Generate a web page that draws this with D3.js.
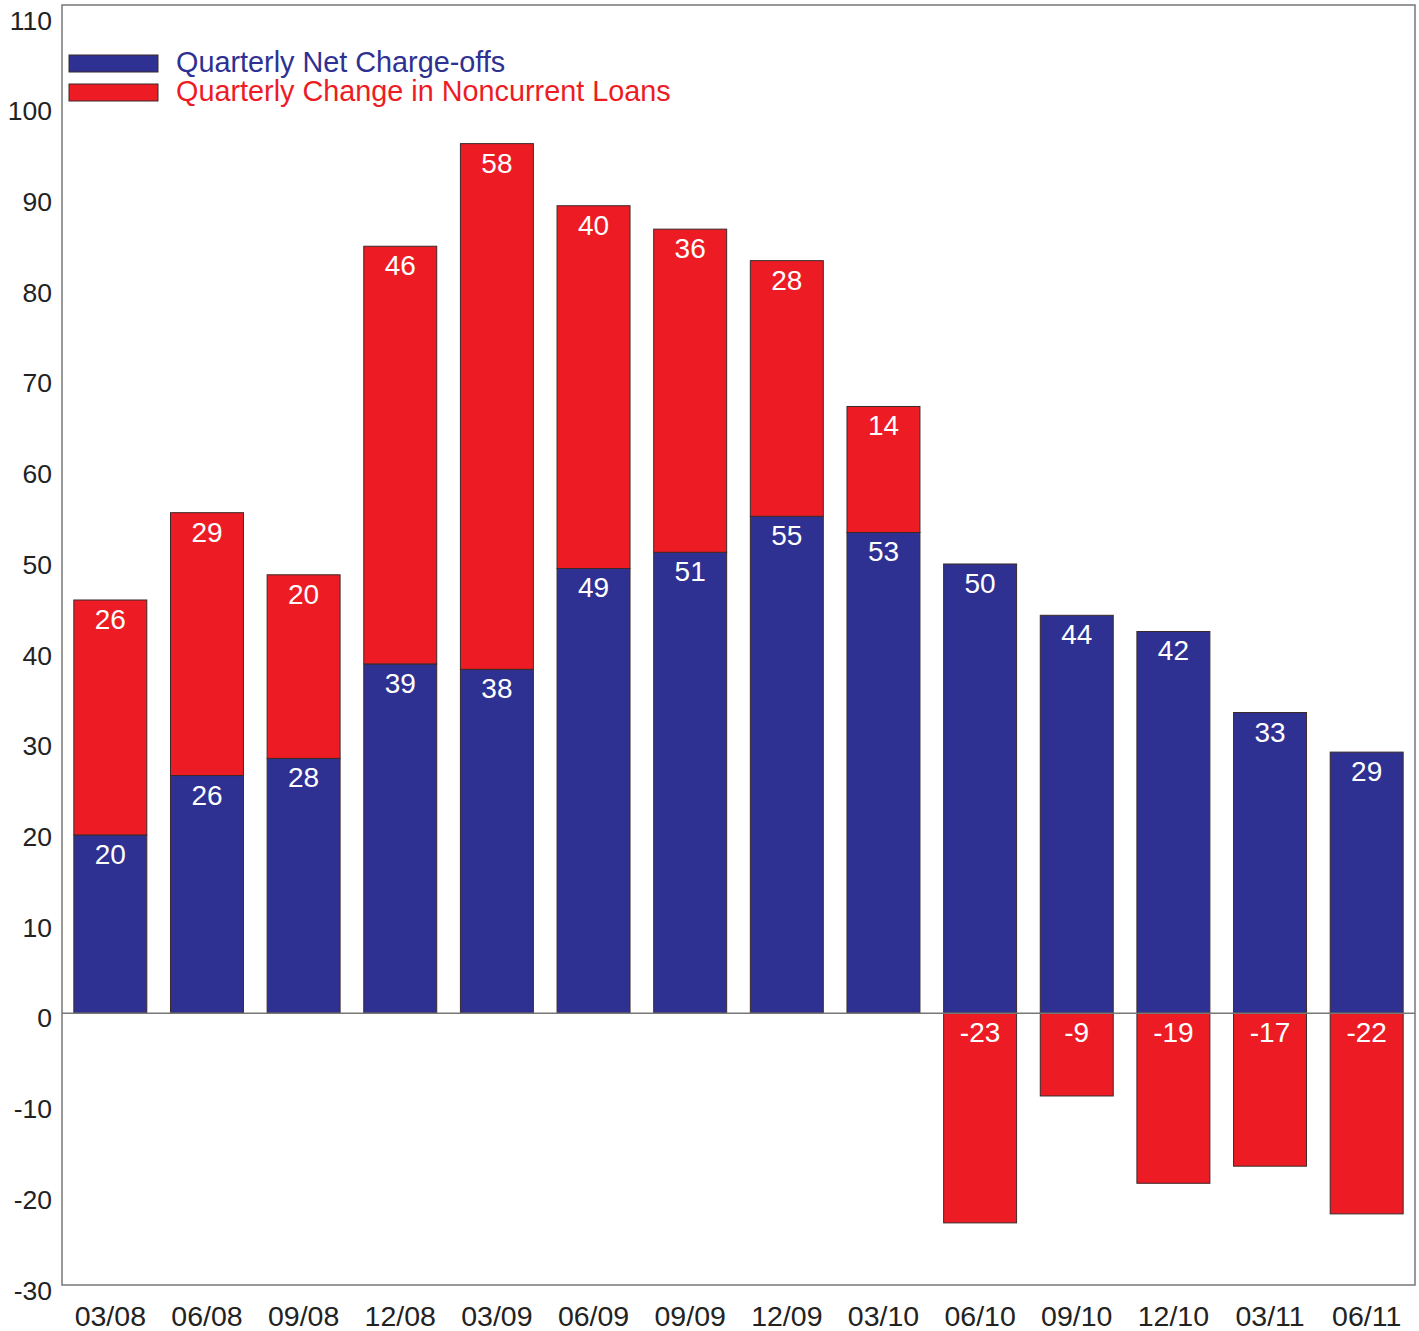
<!DOCTYPE html>
<html>
<head>
<meta charset="utf-8">
<script src="https://cdn.jsdelivr.net/npm/d3@7"></script>
<style>
  body { margin: 0; background: #fff; }
  text { font-family: "Liberation Sans", Arial, sans-serif; }
</style>
</head>
<body>
<div id="chart"></div>
<script>
// quarters on the x axis
var quarters = ["03/08","06/08","09/08","12/08","03/09","06/09","09/09","12/09","03/10","06/10","09/10","12/10","03/11","06/11"]
// net charge-offs (blue, bottom segment)
var chargeOffs = [19.8, 26.4, 28.3, 38.8, 38.2, 49.4, 51.2, 55.2, 53.4, 49.9, 44.2, 42.4, 33.4, 29.0]
// change in noncurrent loans (red, stacked on top, or below zero)
var noncurrentChange = [26.1, 29.2, 20.4, 46.4, 58.4, 40.3, 35.9, 28.4, 14.0, -23.3, -9.2, -18.9, -17.0, -22.3]
var yTicks = [-30, -20, -10, 0, 10, 20, 30, 40, 50, 60, 70, 80, 90, 100, 110]
var seriesNames = ["Quarterly Net Charge-offs", "Quarterly Change in Noncurrent Loans"]
var colors = ["#2E3192", "#ED1C24"]

const W = 1419, H = 1331
const plot = {left: 62, right: 1415, top: 5, bottom: 1285}

var svg = d3.select("#chart").append("svg")
  .attr("width", W)
  .attr("height", H)

var x = d3.scaleBand()
  .domain(quarters)
  .range([plot.left, plot.right])
  .paddingInner(0.245)
  .paddingOuter(0.1225)

var y = d3.scaleLinear()
  .domain([-30.2, 112])
  .range([plot.bottom, plot.top])

// the tick labels in the original sit on their own slightly stretched scale
var yLabel = d3.scaleLinear()
  .domain([-30, 110])
  .range([1299, 29])

// build the segments: blue from 0, red on top of blue when positive, below 0 when negative
var segs = []
quarters.forEach(function(q, i) {
  segs.push({q: q, s: 0, y0: 0, y1: chargeOffs[i], v: chargeOffs[i]})
  var r = noncurrentChange[i]
  if (r >= 0) segs.push({q: q, s: 1, y0: chargeOffs[i], y1: chargeOffs[i] + r, v: r})
  else segs.push({q: q, s: 1, y0: r, y1: 0, v: r})
})

svg.selectAll("rect.seg")
  .data(segs)
  .enter()
  .append("rect")
    .attr("class", "seg")
    .attr("x", function(d) { return x(d.q) })
    .attr("width", x.bandwidth())
    .attr("y", function(d) { return y(d.y1) })
    .attr("height", function(d) { return y(d.y0) - y(d.y1) })
    .attr("fill", function(d) { return colors[d.s] })
    .attr("stroke", "#3a2a2a")
    .attr("stroke-width", 1)

// value labels near the top of each segment
svg.selectAll("text.val")
  .data(segs)
  .enter()
  .append("text")
    .attr("class", "val")
    .attr("x", function(d) { return x(d.q) + x.bandwidth() / 2 })
    .attr("y", function(d) { return y(d.y1) + 29 })
    .attr("text-anchor", "middle")
    .attr("font-size", 28)
    .attr("fill", "#fff")
    .text(function(d) { return Math.round(d.v) })

// zero line
svg.append("line")
  .attr("x1", plot.left).attr("x2", plot.right)
  .attr("y1", y(0)).attr("y2", y(0))
  .attr("stroke", "#777")
  .attr("stroke-width", 1.5)

// frame
svg.append("rect")
  .attr("x", plot.left).attr("y", plot.top)
  .attr("width", plot.right - plot.left)
  .attr("height", plot.bottom - plot.top)
  .attr("fill", "none")
  .attr("stroke", "#777")
  .attr("stroke-width", 1.5)

// y axis labels (no tick marks), plain hyphen for negatives
svg.append("g")
  .attr("transform", "translate(" + 52 + ",0)")
  .call(d3.axisLeft(yLabel).tickValues(yTicks).tickSize(0).tickPadding(0)
    .tickFormat(function(d) { return String(d) }))
  .call(function(g) { g.select(".domain").remove() })
  .selectAll("text")
    .attr("dy", 0)
    .attr("font-family", "'Liberation Sans', Arial, sans-serif")
    .attr("font-size", 26.5)
    .attr("fill", "#222")

// x axis labels
svg.append("g")
  .attr("transform", "translate(0," + 1326 + ")")
  .call(d3.axisBottom(x).tickSize(0).tickPadding(0))
  .call(function(g) { g.select(".domain").remove() })
  .selectAll("text")
    .attr("dy", 0)
    .attr("y", 0)
    .attr("font-family", "'Liberation Sans', Arial, sans-serif")
    .attr("font-size", 28.5)
    .attr("fill", "#222")

// legend
var legend = svg.append("g")
  .selectAll("g")
  .data(seriesNames)
  .enter()
  .append("g")
    .attr("transform", function(d, i) { return "translate(69," + (55 + i * 29) + ")" })

legend.append("rect")
  .attr("width", 89)
  .attr("height", 17)
  .attr("fill", function(d, i) { return colors[i] })
  .attr("stroke", "#3a2a2a")
  .attr("stroke-width", 1)

legend.append("text")
  .attr("x", 107)
  .attr("y", 17)
  .attr("font-size", 28.8)
  .attr("fill", function(d, i) { return colors[i] })
  .text(function(d) { return d })
</script>
</body>
</html>
